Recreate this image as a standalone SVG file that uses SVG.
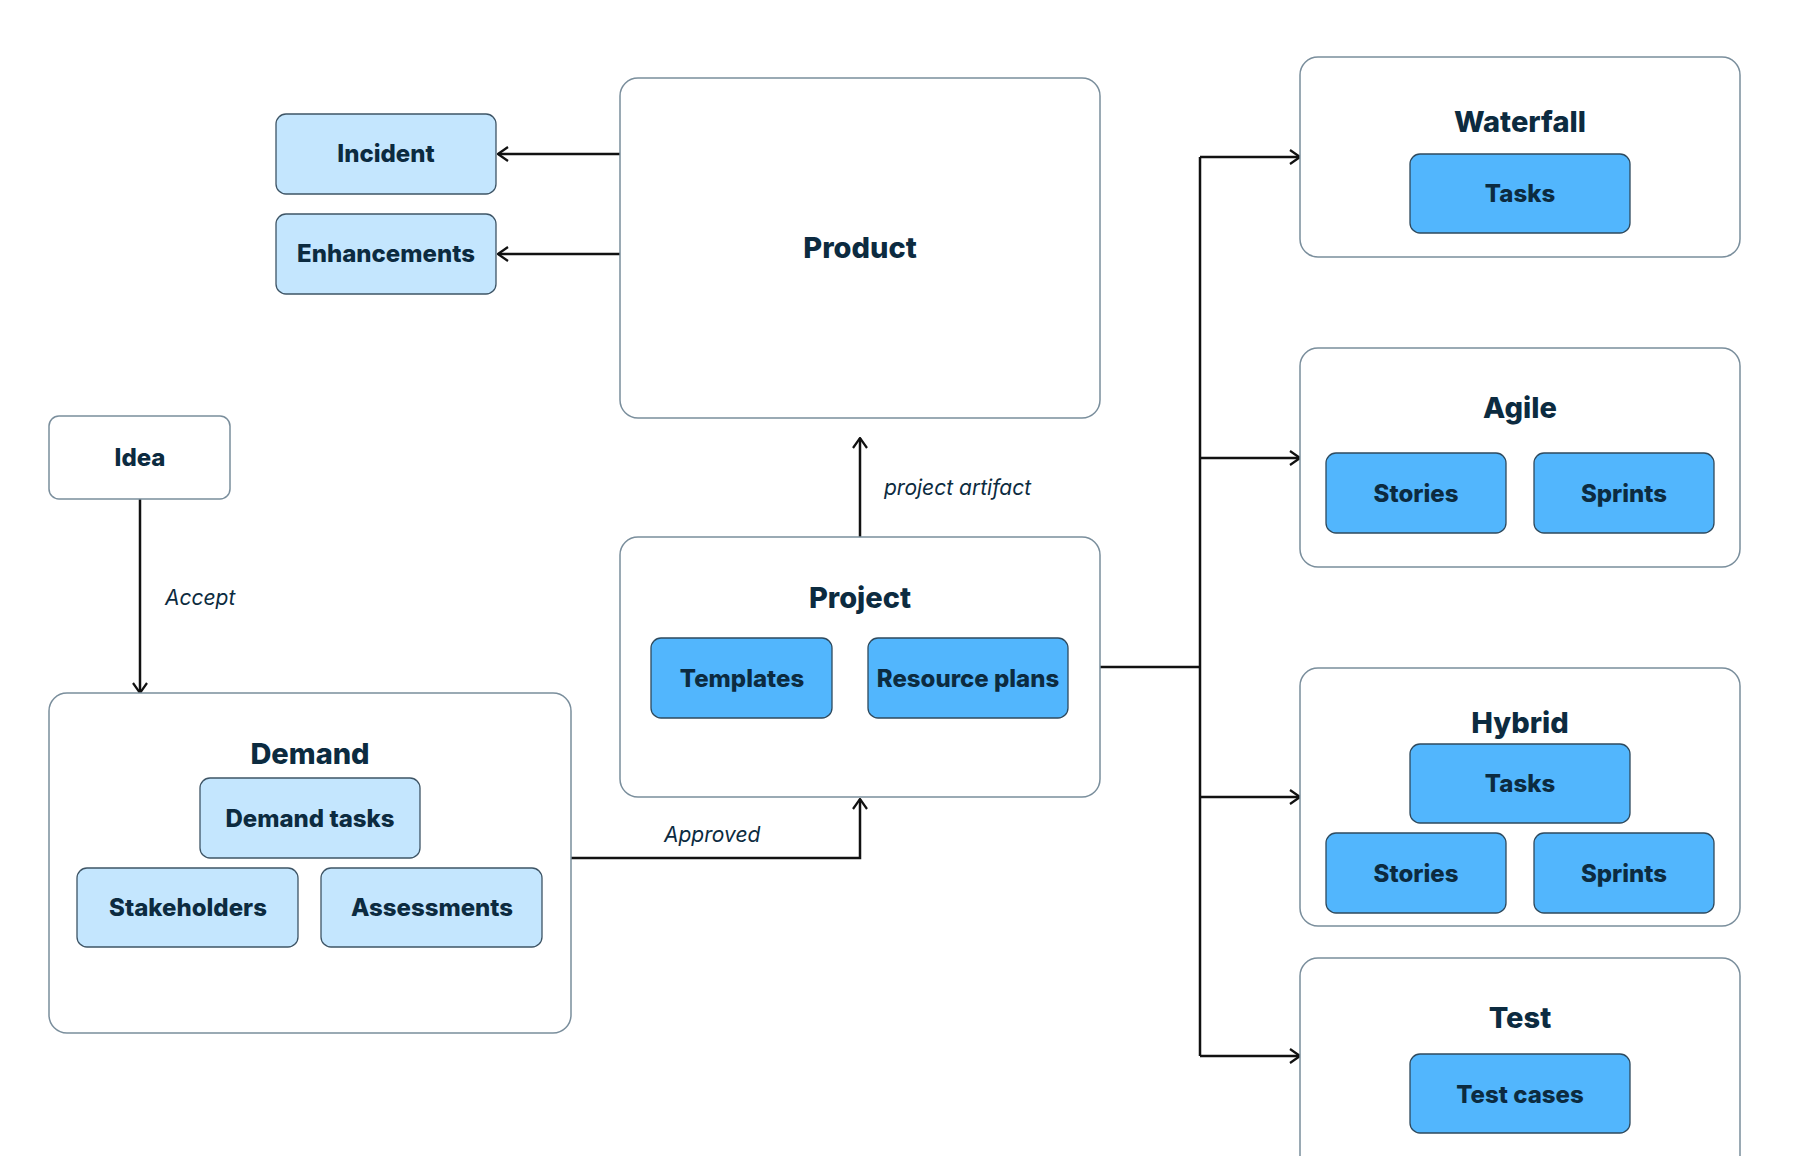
<svg xmlns="http://www.w3.org/2000/svg" width="1800" height="1156" viewBox="0 0 1800 1156">
<defs>
<style>
.box{fill:#fff;stroke:#7a8e9c;stroke-width:1.5}
.lt{fill:#c4e6fe;stroke:#3e5566;stroke-width:1.3}
.dk{fill:#52b6fd;stroke:#2e4a5e;stroke-width:1.3}
.t{font-family:Inter,"Noto Sans",sans-serif;font-weight:800;fill:#0c2b40;text-anchor:middle}
.h{font-size:29px}
.s{font-size:24px}
.lb{font-family:Inter,"Noto Sans",sans-serif;font-style:italic;font-size:21px;fill:#0c2b40}
.c{fill:none;stroke:#111;stroke-width:2.5}
</style>
<marker id="a" viewBox="0 0 12 16" refX="11" refY="8" markerWidth="12" markerHeight="16" markerUnits="userSpaceOnUse" orient="auto"><path d="M1,1 L11,8 L1,15" fill="none" stroke="#111" stroke-width="2.2"/></marker>
</defs>
<rect width="1800" height="1156" fill="#fff"/>
<g id="connectors">
<path class="c" d="M620,154 H498" marker-end="url(#a)"/>
<path class="c" d="M620,254 H498" marker-end="url(#a)"/>
<path class="c" d="M140,499 V693" marker-end="url(#a)"/>
<path class="c" d="M571,858 H860 V799" marker-end="url(#a)"/>
<path class="c" d="M860,537 V438" marker-end="url(#a)"/>
<path class="c" d="M1100,667 H1200"/>
<path class="c" d="M1200,157 V1056"/>
<path class="c" d="M1200,157 H1300" marker-end="url(#a)"/>
<path class="c" d="M1200,458 H1300" marker-end="url(#a)"/>
<path class="c" d="M1200,797 H1300" marker-end="url(#a)"/>
<path class="c" d="M1200,1056 H1300" marker-end="url(#a)"/>
<text class="lb" x="165" y="605">Accept</text>
<text class="lb" x="664" y="842">Approved</text>
<text class="lb" x="884" y="495">project artifact</text>
</g>
<g id="product"><rect class="box" x="620" y="78" width="480" height="340" rx="18"/><text class="t h" x="860" y="258">Product</text></g>
<g id="incident"><rect class="lt" x="276" y="114" width="220" height="80" rx="10"/><text class="t s" x="386" y="162">Incident</text></g>
<g id="enhancements"><rect class="lt" x="276" y="214" width="220" height="80" rx="10"/><text class="t s" x="386" y="262">Enhancements</text></g>
<g id="idea"><rect class="box" x="49" y="416" width="181" height="83" rx="10"/><text class="t s" x="140" y="466">Idea</text></g>
<g id="demand"><rect class="box" x="49" y="693" width="522" height="340" rx="18"/><text class="t h" x="310" y="764">Demand</text>
<rect class="lt" x="200" y="778" width="220" height="80" rx="10"/><text class="t s" x="310" y="827">Demand tasks</text>
<rect class="lt" x="77" y="868" width="221" height="79" rx="10"/><text class="t s" x="188" y="916">Stakeholders</text>
<rect class="lt" x="321" y="868" width="221" height="79" rx="10"/><text class="t s" x="432" y="916">Assessments</text></g>
<g id="project"><rect class="box" x="620" y="537" width="480" height="260" rx="18"/><text class="t h" x="860" y="608">Project</text>
<rect class="dk" x="651" y="638" width="181" height="80" rx="10"/><text class="t s" x="742" y="687">Templates</text>
<rect class="dk" x="868" y="638" width="200" height="80" rx="10"/><text class="t s" x="968" y="687">Resource plans</text></g>
<g id="waterfall"><rect class="box" x="1300" y="57" width="440" height="200" rx="18"/><text class="t h" x="1520" y="132">Waterfall</text>
<rect class="dk" x="1410" y="154" width="220" height="79" rx="10"/><text class="t s" x="1520" y="202">Tasks</text></g>
<g id="agile"><rect class="box" x="1300" y="348" width="440" height="219" rx="18"/><text class="t h" x="1520" y="418">Agile</text>
<rect class="dk" x="1326" y="453" width="180" height="80" rx="10"/><text class="t s" x="1416" y="502">Stories</text>
<rect class="dk" x="1534" y="453" width="180" height="80" rx="10"/><text class="t s" x="1624" y="502">Sprints</text></g>
<g id="hybrid"><rect class="box" x="1300" y="668" width="440" height="258" rx="18"/><text class="t h" x="1520" y="733">Hybrid</text>
<rect class="dk" x="1410" y="744" width="220" height="79" rx="10"/><text class="t s" x="1520" y="792">Tasks</text>
<rect class="dk" x="1326" y="833" width="180" height="80" rx="10"/><text class="t s" x="1416" y="882">Stories</text>
<rect class="dk" x="1534" y="833" width="180" height="80" rx="10"/><text class="t s" x="1624" y="882">Sprints</text></g>
<g id="test"><rect class="box" x="1300" y="958" width="440" height="230" rx="18"/><text class="t h" x="1520" y="1028">Test</text>
<rect class="dk" x="1410" y="1054" width="220" height="79" rx="10"/><text class="t s" x="1520" y="1103">Test cases</text></g>
</svg>
